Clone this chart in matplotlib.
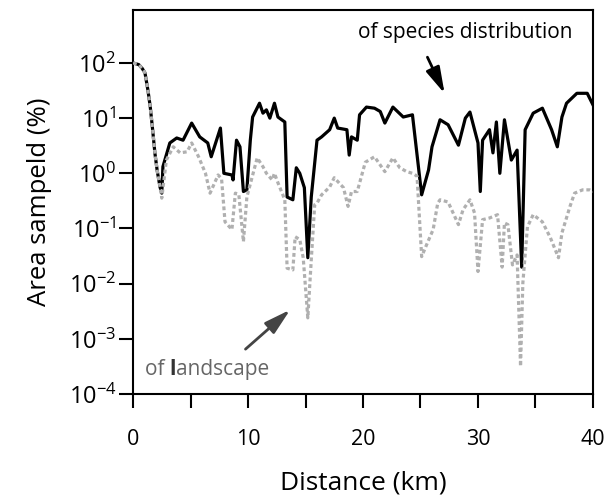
import numpy as np
import matplotlib.pyplot as plt
from matplotlib.ticker import LogLocator, LogFormatterMathtext, MultipleLocator, NullLocator

plt.rcParams['font.family'] = ['Open Sans', 'DejaVu Sans']
plt.rcParams['mathtext.fontset'] = 'custom'
plt.rcParams['mathtext.rm'] = 'Open Sans'
plt.rcParams['mathtext.default'] = 'regular'

# species distribution (black solid), log10 of % sampled
species_x = [0.0, 0.5, 0.8, 1.04, 1.3, 1.5, 1.7, 1.9, 2.1, 2.35, 2.5, 2.6, 3.2, 3.8, 4.35,
             5.1, 5.8, 6.5, 6.8, 7.6, 7.9, 8.6, 8.7, 9.0, 9.3, 9.6, 9.9, 10.2, 10.4, 11.0,
             11.3, 11.6, 11.9, 12.3, 12.6, 13.2, 13.4, 13.9, 14.2, 14.5, 14.9, 15.2, 15.5,
             16.0, 16.4, 17.1, 17.5, 17.8, 18.6, 18.8, 19.0, 19.5, 19.7, 20.3, 21.0, 21.5,
             21.9, 22.6, 23.5, 24.3, 25.1, 25.7, 26.0, 26.7, 27.4, 28.3, 28.9, 29.3, 30.0,
             30.2, 30.4, 31.0, 31.3, 31.6, 31.9, 32.3, 32.9, 33.4, 33.8, 34.1, 34.8, 35.6,
             36.4, 36.9, 37.3, 37.7, 38.6, 39.5, 40.0]
species_log = [2.0, 1.97, 1.9, 1.82, 1.5, 1.2, 0.8, 0.37, 0.05, -0.25, -0.36, 0.12, 0.55, 0.64, 0.6,
               0.91, 0.66, 0.55, 0.3, 0.82, 0.0, -0.03, -0.12, 0.6, 0.48, -0.33, -0.3, 0.6, 1.02, 1.27,
               1.09, 1.15, 1.0, 1.27, 1.02, 0.93, -0.43, -0.48, 0.1, 0.0, -0.26, -1.53, -0.43,
               0.6, 0.66, 0.79, 1.0, 0.82, 0.79, 0.33, 0.66, 0.6, 1.06, 1.2, 1.18, 1.12,
               0.91, 1.2, 1.02, 1.06, -0.39, 0.06, 0.48, 0.97, 0.88, 0.51, 1.0, 1.11, 0.55,
               -0.33, 0.6, 0.79, 0.37, 0.93, 0.0, 0.97, 0.24, 0.42, -1.7, 0.79, 1.09, 1.18,
               0.79, 0.48, 1.02, 1.27, 1.45, 1.45, 1.24]

# landscape (grey dotted)
land_x = [0.0, 0.5, 0.8, 1.04, 1.3, 1.5, 1.7, 1.9, 2.1, 2.35, 2.5, 2.9, 3.5, 4.1, 4.7,
          5.1, 5.7, 6.3, 6.7, 7.4, 7.7, 8.0, 8.6, 8.9, 9.2, 9.6, 9.9, 10.8, 11.3, 11.6,
          12.1, 12.3, 12.6, 13.2, 13.4, 13.9, 14.1, 14.5, 14.8, 15.2, 15.5, 15.8, 16.0,
          16.4, 17.1, 17.5, 18.3, 18.7, 19.0, 19.5, 20.2, 21.0, 21.5, 21.9, 22.6, 23.2,
          23.8, 24.3, 24.7, 25.1, 25.6, 26.1, 26.5, 26.7, 27.4, 28.3, 28.7, 29.3, 29.7,
          30.0, 30.4, 31.0, 31.7, 32.1, 32.3, 32.6, 33.0, 33.4, 33.7, 33.9, 34.3, 34.8,
          35.6, 36.3, 37.0, 37.3, 38.0, 38.4, 39.1, 39.7, 40.0]
land_log = [2.0, 1.97, 1.9, 1.82, 1.5, 1.2, 0.8, 0.37, 0.05, -0.25, -0.45, 0.24, 0.48, 0.37, 0.39,
            0.55, 0.3, 0.0, -0.36, -0.03, -0.1, -0.88, -1.02, -0.36, -0.38, -1.24, -0.43, 0.28, 0.12, 0.0,
            -0.12, 0.0, -0.17, -0.48, -1.72, -1.75, -1.15, -1.2, -1.53, -2.62, -1.57, -0.57, -0.54,
            -0.39, -0.25, -0.08, -0.26, -0.6, -0.33, -0.33, 0.2, 0.3, 0.15, 0.03, 0.28, 0.1,
            0.03, 0.0, -0.05, -1.51, -1.26, -1.02, -0.54, -0.48, -0.52, -0.93, -0.66, -0.48, -0.72,
            -1.78, -0.84, -0.81, -0.75, -1.7, -0.9, -0.93, -1.66, -1.48, -3.5, -1.99, -0.97, -0.75,
            -0.88, -1.17, -1.53, -1.08, -0.6, -0.36, -0.3, -0.3, -0.33]

species_y = 10 ** np.array(species_log)
land_y = 10 ** np.array(land_log)

fig = plt.figure(figsize=(6.15, 4.99), dpi=100)
ax = fig.add_axes([0.2163, 0.2104, 0.7479, 0.7696])

ax.plot(species_x, species_y, color='black', lw=2.3, zorder=2)
ax.plot(land_x, land_y, color='#b0b0b0', lw=2.3, linestyle=(0, (1.2, 0.9)), zorder=3)

ax.set_yscale('log')
ax.set_xlim(0, 40)
ax.set_ylim(1e-4, 10 ** 2.96)
ax.xaxis.set_major_locator(MultipleLocator(5))
ax.xaxis.set_major_formatter(plt.FuncFormatter(lambda v, p: '%d' % v if v % 10 == 0 else ''))
ax.yaxis.set_major_locator(LogLocator(base=10, numticks=10))
ax.yaxis.set_major_formatter(LogFormatterMathtext())
ax.yaxis.set_minor_locator(NullLocator())

for s in ax.spines.values():
    s.set_linewidth(1.5)
ax.tick_params(axis='both', which='major', direction='out', length=10, width=1.5,
               color='black')
ax.tick_params(axis='x', pad=15, labelsize=15.5)
ax.tick_params(axis='y', pad=2, labelsize=17)

ax.set_xlabel('Distance (km)', fontsize=19, labelpad=15)
ax.set_ylabel('Area sampeld (%)', fontsize=18.5, labelpad=12)

# annotations
arrow = '-|>,head_length=0.8,head_width=0.22'
ax.annotate('', xy=(27.2, 10 ** 1.4), xytext=(25.5, 10 ** 2.15),
            arrowprops=dict(arrowstyle=arrow, color='black', lw=2, mutation_scale=20))
ax.text(28.9, 10 ** 2.56, 'of species distribution', fontsize=15, ha='center', va='center')

ax.annotate('', xy=(13.85, 10 ** -2.44), xytext=(9.6, 10 ** -3.22),
            arrowprops=dict(arrowstyle=arrow, color='#444444', lw=2, mutation_scale=20))
t1 = ax.text(1.0, 10 ** -3.74, 'of ', fontsize=15, color='#666666', va='bottom')
t2 = ax.annotate('l', xy=(1, 0), xycoords=t1, fontsize=15, color='#333333',
                 fontweight='bold', va='bottom')
ax.annotate('andscape', xy=(1, 0), xycoords=t2, fontsize=15, color='#666666', va='bottom')

fig.savefig('out.png', dpi=100)
